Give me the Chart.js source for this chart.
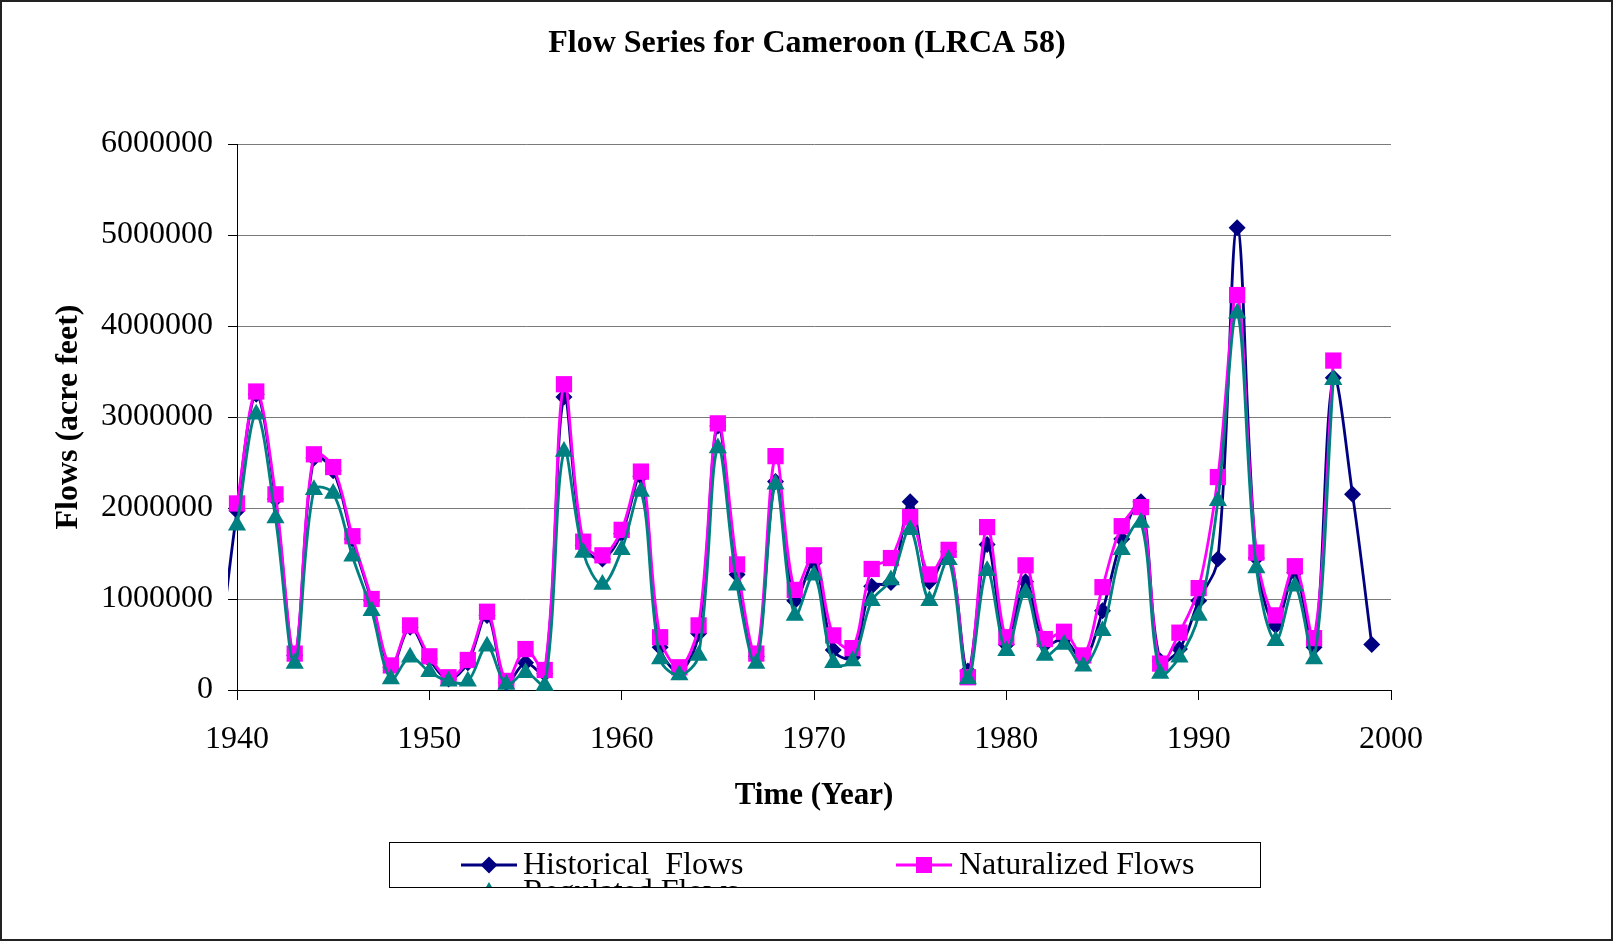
<!DOCTYPE html>
<html>
<head>
	<meta charset="UTF-8">
	<title>Flow Series for Cameroon (LRCA 58)</title>
	<style>
		body { margin: 0; background: #fff; }
		#wrap { width: 1613px; height: 941px; }
	</style>
	<script src="https://cdn.jsdelivr.net/npm/chart.js@4.4.1/dist/chart.umd.min.js"></script>
</head>
<body>
	<div id="wrap"><canvas id="canvas"></canvas></div>
	<script>

		var chartTitle = 'Flow Series for Cameroon (LRCA 58)';

		// historical record starts a year before the axis and runs to 1999
		var histYears = [1939, 1940, 1941, 1942, 1943, 1944, 1945, 1946, 1947, 1948, 1949,
			1950, 1951, 1952, 1953, 1954, 1955, 1956, 1957, 1958, 1959,
			1960, 1961, 1962, 1963, 1964, 1965, 1966, 1967, 1968, 1969,
			1970, 1971, 1972, 1973, 1974, 1975, 1976, 1977, 1978, 1979,
			1980, 1981, 1982, 1983, 1984, 1985, 1986, 1987, 1988, 1989,
			1990, 1991, 1992, 1993, 1994, 1995, 1996, 1997, 1998, 1999];
		var historical = [250000, 1970000, 3250000, 2100000, 380000, 2550000, 2410000, 1660000, 980000, 250000, 690000,
			340000, 120000, 300000, 820000, 80000, 300000, 180000, 3220000, 1590000, 1440000,
			1720000, 2350000, 470000, 200000, 620000, 2900000, 1270000, 370000, 2290000, 980000,
			1400000, 440000, 360000, 1140000, 1180000, 2070000, 1190000, 1520000, 210000, 1600000,
			500000, 1190000, 500000, 560000, 330000, 870000, 1660000, 2070000, 320000, 450000,
			980000, 1440000, 5080000, 1450000, 710000, 1290000, 470000, 3430000, 2150000, 500000];

		var years = [1940, 1941, 1942, 1943, 1944, 1945, 1946, 1947, 1948, 1949,
			1950, 1951, 1952, 1953, 1954, 1955, 1956, 1957, 1958, 1959,
			1960, 1961, 1962, 1963, 1964, 1965, 1966, 1967, 1968, 1969,
			1970, 1971, 1972, 1973, 1974, 1975, 1976, 1977, 1978, 1979,
			1980, 1981, 1982, 1983, 1984, 1985, 1986, 1987, 1988, 1989,
			1990, 1991, 1992, 1993, 1994, 1995, 1996, 1997];
		var naturalized = [2050000, 3280000, 2150000, 400000, 2590000, 2450000, 1690000, 1000000, 270000, 710000,
			370000, 140000, 330000, 860000, 100000, 450000, 220000, 3360000, 1630000, 1480000,
			1760000, 2400000, 580000, 250000, 710000, 2930000, 1380000, 400000, 2570000, 1100000,
			1480000, 600000, 460000, 1330000, 1450000, 1900000, 1270000, 1540000, 140000, 1790000,
			580000, 1370000, 560000, 640000, 380000, 1130000, 1800000, 2010000, 290000, 630000,
			1120000, 2340000, 4340000, 1510000, 820000, 1360000, 570000, 3620000];
		var regulated = [1810000, 3030000, 1890000, 290000, 2200000, 2160000, 1470000, 870000, 120000, 360000,
			200000, 95000, 95000, 480000, 60000, 190000, 50000, 2620000, 1510000, 1160000,
			1540000, 2180000, 340000, 165000, 380000, 2660000, 1150000, 290000, 2260000, 820000,
			1260000, 300000, 320000, 980000, 1210000, 1760000, 980000, 1430000, 120000, 1310000,
			430000, 1070000, 380000, 500000, 260000, 650000, 1540000, 1840000, 180000, 360000,
			820000, 2080000, 4140000, 1340000, 540000, 1140000, 340000, 3410000];

		var yTicks = [0, 1000000, 2000000, 3000000, 4000000, 5000000, 6000000];
		var xTicks = [1940, 1950, 1960, 1970, 1980, 1990, 2000];

		var chartColors = {
			historical: '#000080',
			naturalized: '#ff00ff',
			regulated: '#008080'
		};
		var serif = "'Liberation Serif', 'Times New Roman', serif";

		function points(xs, ys) {
			return xs.map(function(x, i){ return { x: x, y: ys[i] }; });
		}

		// legend placement, drawn by hand so the clipped third row can be reproduced
		var legendItems = [
			{ text: 'Historical  Flows', color: chartColors.historical, shape: 'diamond', lx: 461, ly: 865, tx: 523, ty: 874 },
			{ text: 'Naturalized Flows', color: chartColors.naturalized, shape: 'square', lx: 896, ly: 865, tx: 959, ty: 874 },
			{ text: 'Regulated Flows', color: chartColors.regulated, shape: 'triangle', lx: 461, ly: 892, tx: 523, ty: 901 }
		];

		function marker(ctx, shape, x, y) {
			ctx.beginPath();
			if (shape == 'diamond') {
				ctx.moveTo(x - 8.5, y); ctx.lineTo(x, y - 8.5); ctx.lineTo(x + 8.5, y); ctx.lineTo(x, y + 8.5);
			} else if (shape == 'square') {
				ctx.rect(x - 8, y - 8, 16, 16);
			} else {
				ctx.moveTo(x, y - 10); ctx.lineTo(x + 9, y + 5); ctx.lineTo(x - 9, y + 5);
			}
			ctx.closePath();
			ctx.fill();
		}

		var decorations = {
			id: 'decorations',
			afterDraw: function(chart) {
				var ctx = chart.ctx;
				ctx.save();
				ctx.fillStyle = '#000';
				ctx.font = 'bold 32px ' + serif;
				ctx.textAlign = 'center';
				ctx.textBaseline = 'middle';
				ctx.fillText(chartTitle, 807, 44);

				ctx.strokeStyle = '#000';
				ctx.lineWidth = 1;
				ctx.strokeRect(389.5, 842.5, 871, 45);

				ctx.save();
				ctx.beginPath();
				ctx.rect(390, 843, 870, 44);
				ctx.clip();
				ctx.textAlign = 'left';
				ctx.textBaseline = 'alphabetic';
				ctx.font = '32px ' + serif;
				legendItems.forEach(function(it){
					ctx.strokeStyle = it.color;
					ctx.fillStyle = it.color;
					ctx.lineWidth = 3;
					ctx.beginPath();
					ctx.moveTo(it.lx, it.ly);
					ctx.lineTo(it.lx + 56, it.ly);
					ctx.stroke();
					marker(ctx, it.shape, it.lx + 28, it.ly);
					ctx.fillStyle = '#000';
					ctx.fillText(it.text, it.tx, it.ty);
				});
				ctx.restore();

				ctx.strokeStyle = '#222';
				ctx.lineWidth = 2;
				ctx.strokeRect(1, 1, chart.width - 2, chart.height - 2);
				ctx.restore();
			}
		};

		var config = {
			type: 'line',
			data: {
				datasets: [{
					label: 'Historical  Flows',
					data: points(histYears, historical),
					borderColor: chartColors.historical,
					backgroundColor: chartColors.historical,
					pointStyle: 'rectRot',
					pointRadius: function(c){ return c.raw && c.raw.x < 1940 ? 0 : 8.5; },
					clip: { left: 9, top: false, right: false, bottom: false },
					order: 3
				}, {
					label: 'Naturalized Flows',
					data: points(years, naturalized),
					borderColor: chartColors.naturalized,
					backgroundColor: chartColors.naturalized,
					pointStyle: 'rect',
					pointRadius: 11.5,
					clip: false,
					order: 2
				}, {
					label: 'Regulated Flows',
					data: points(years, regulated),
					borderColor: chartColors.regulated,
					backgroundColor: chartColors.regulated,
					pointStyle: 'triangle',
					pointRadius: 10.5,
					clip: false,
					order: 1
				}]
			},
			options: {
				responsive: true,
				maintainAspectRatio: false,
				animation: false,
				datasets: {
					line: { borderWidth: 2.8, tension: 0.35, pointBorderWidth: 0, pointHoverRadius: 8, fill: false }
				},
				layout: { padding: { left: 10, right: 222, top: 144, bottom: 121 } },
				plugins: {
					legend: { display: false },
					title: { display: false },
					tooltip: { enabled: false }
				},
				scales: {
					x: {
						type: 'linear',
						min: xTicks[0],
						max: xTicks[xTicks.length - 1],
						afterFit: function(s){ s.height = 130; },
						afterBuildTicks: function(s){ s.ticks = xTicks.map(function(v){ return { value: v }; }); },
						ticks: {
							color: '#000',
							font: { family: serif, size: 32 },
							padding: 20,
							callback: function(v){ return String(v); }
						},
						grid: { drawOnChartArea: false, tickColor: '#000', tickLength: 10 },
						border: { color: '#000', width: 1 },
						title: {
							display: true,
							text: 'Time (Year)',
							color: '#000',
							font: { family: serif, size: 31, weight: 'bold' },
							padding: { top: 0, bottom: 5 }
						}
					},
					y: {
						min: yTicks[0],
						max: yTicks[yTicks.length - 1],
						afterFit: function(s){ s.width = 227; },
						afterBuildTicks: function(s){ s.ticks = yTicks.map(function(v){ return { value: v }; }); },
						ticks: {
							color: '#000',
							font: { family: serif, size: 32 },
							padding: 15,
							callback: function(v){ return String(v); }
						},
						grid: { color: '#7a7a7a', lineWidth: 1, tickColor: '#000', tickLength: 9 },
						border: { color: '#000', width: 1 },
						title: {
							display: true,
							text: 'Flows (acre feet)',
							color: '#000',
							font: { family: serif, size: 32, weight: 'bold' },
							padding: { top: 40, bottom: 0 }
						}
					}
				}
			},
			plugins: [decorations]
		};

		new Chart(document.getElementById('canvas').getContext('2d'), config);

	</script>
</body>
</html>
